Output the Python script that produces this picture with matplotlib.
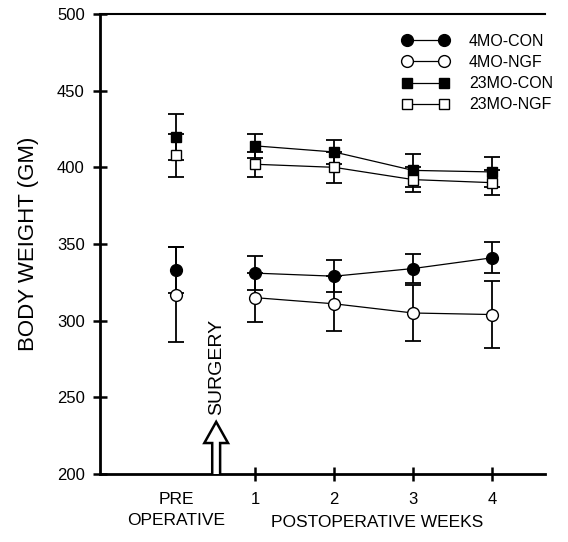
import matplotlib
matplotlib.use("Agg")
import matplotlib.pyplot as plt
from matplotlib.lines import Line2D
from matplotlib.patches import Polygon

plt.rcParams['font.family'] = ['Liberation Sans', 'DejaVu Sans']

# ---- data ----
groups = ["4MO-CON", "4MO-NGF", "23MO-CON", "23MO-NGF"]
weeks = [1, 2, 3, 4]
week_labels = ["1", "2", "3", "4"]
pre_x = 0.0

pre_mean = {"4MO-CON": 333, "4MO-NGF": 317, "23MO-CON": 420, "23MO-NGF": 408}
pre_err = {"4MO-CON": 15, "4MO-NGF": 31, "23MO-CON": 15, "23MO-NGF": 14}

con4_mean = [331, 329, 334, 341]
con4_err = [11, 10.5, 9.5, 10]
ngf4_mean = [315, 311, 305, 304]
ngf4_err = [16, 18, 18, 22]
con23_mean = [414, 410, 398, 397]
con23_err = [8, 8, 11, 10]
ngf23_mean = [402, 400, 392, 390]
ngf23_err = [8, 10, 8, 8]

post_mean = {"4MO-CON": con4_mean, "4MO-NGF": ngf4_mean,
             "23MO-CON": con23_mean, "23MO-NGF": ngf23_mean}
post_err = {"4MO-CON": con4_err, "4MO-NGF": ngf4_err,
            "23MO-CON": con23_err, "23MO-NGF": ngf23_err}

styles = {
    "4MO-CON": dict(marker="o", mfc="black", ms=8.5),
    "4MO-NGF": dict(marker="o", mfc="white", ms=8.5),
    "23MO-CON": dict(marker="s", mfc="black", ms=7.5),
    "23MO-NGF": dict(marker="s", mfc="white", ms=7.5),
}

fig = plt.figure(figsize=(5.68, 5.42), dpi=100)
ax = fig.add_axes([100/568, 68/542, 445/568, 460/542])

for g in groups:
    st = styles[g]
    ax.errorbar([pre_x], [pre_mean[g]], yerr=[pre_err[g]], fmt="none",
                ecolor="black", elinewidth=1.3, capsize=6, capthick=1.3, zorder=2)
    ax.errorbar(weeks, post_mean[g], yerr=post_err[g], fmt="none",
                ecolor="black", elinewidth=1.3, capsize=6, capthick=1.3, zorder=2)
    ax.plot(weeks, post_mean[g], color="black", lw=0.9, marker=st["marker"],
            mfc=st["mfc"], mec="black", mew=1.0, ms=st["ms"], zorder=3)
    ax.plot([pre_x], [pre_mean[g]], linestyle="none", marker=st["marker"],
            mfc=st["mfc"], mec="black", mew=1.0, ms=st["ms"], zorder=3)

ax.set_xlim(-0.965, 4.67)
ax.set_ylim(200, 500)
ax.set_yticks([200, 250, 300, 350, 400, 450, 500])
ax.set_xticks(weeks)
ax.set_xticklabels(week_labels)

for s in ["left", "bottom"]:
    ax.spines[s].set_linewidth(2.0)
ax.spines["top"].set_linewidth(1.5)
ax.spines["right"].set_visible(False)

ax.tick_params(axis="both", direction="inout", length=10, width=1.8,
               labelsize=12, colors="black")
ax.tick_params(axis="x", pad=8)
ax.tick_params(axis="y", pad=6)

ax.set_ylabel("BODY WEIGHT (GM)", fontsize=16, labelpad=13)

# x-axis texts
ax.text(pre_x, -0.078, "PRE\nOPERATIVE", transform=ax.get_xaxis_transform(),
        ha="center", va="center", fontsize=12.5, linespacing=1.45)
ax.text(2.55, -0.105, "POSTOPERATIVE WEEKS", transform=ax.get_xaxis_transform(),
        ha="center", va="center", fontsize=12.5)

# surgery arrow (open)
cx = 0.506
sw = 0.05
hw = 0.15
arrow = Polygon([(cx - sw, 200), (cx - sw, 220.2), (cx - hw, 220.2), (cx, 234),
                 (cx + hw, 220.2), (cx + sw, 220.2), (cx + sw, 200)],
                closed=False, facecolor="white", edgecolor="black", lw=1.8,
                zorder=5, clip_on=False)
ax.add_patch(arrow)
ax.text(cx, 238.5, "SURGERY", rotation=90, ha="center", va="bottom", fontsize=14)

# legend
handles = [Line2D([0], [0], color="black", lw=0.9, marker=styles[g]["marker"],
                  mfc=styles[g]["mfc"], mec="black", mew=1.0, ms=styles[g]["ms"])
           for g in groups]
leg = ax.legend(handles, groups, loc="upper left",
                bbox_to_anchor=(402/568, 1 - 34/542), bbox_transform=fig.transFigure,
                frameon=False, fontsize=11.5, numpoints=2, handlelength=2.9,
                handletextpad=1.3, labelspacing=0.38, borderpad=0, borderaxespad=0)

fig.savefig("out.png", dpi=100)
